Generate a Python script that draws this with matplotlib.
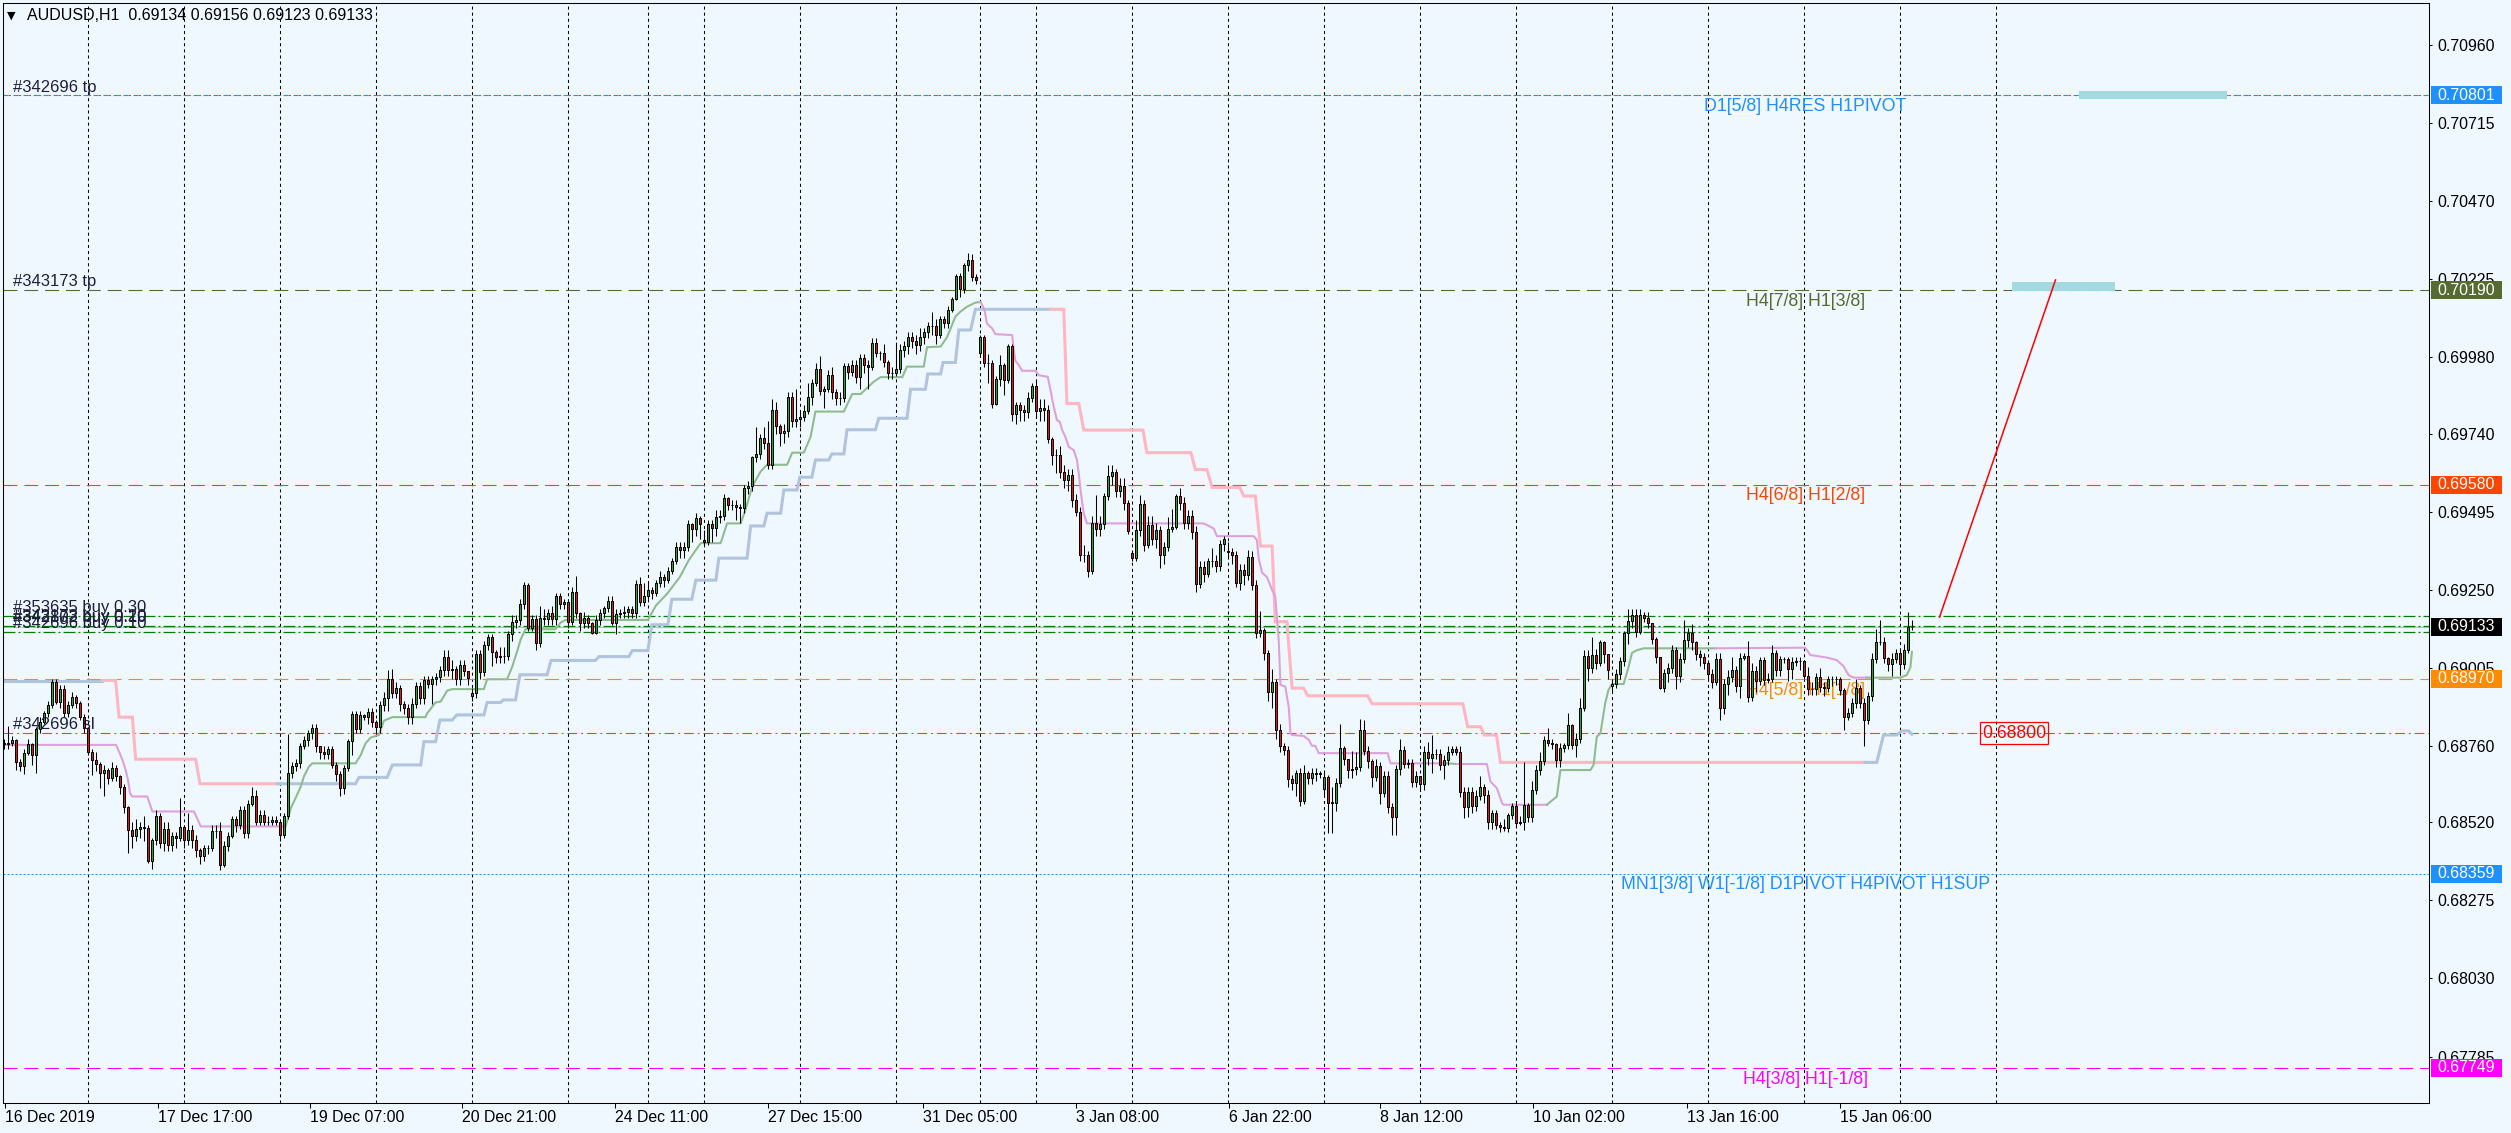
import numpy as np
import matplotlib
matplotlib.use("Agg")
import matplotlib.pyplot as plt
import matplotlib.transforms as mtransforms
from matplotlib.patches import Rectangle

W, H = 2511, 1133
PIP = 1e-4

# H1 candles, prices in pips (1e-4); open = previous close unless listed in gap_open_pips
close_pips = [
    6876.6, 6877.0, 6877.7, 6870.8, 6869.7, 6873.7, 6876.6, 6873.1, 6881.2, 6883.6,
    6886.2, 6888.9, 6895.9, 6889.9, 6893.8, 6886.2, 6888.9, 6891.3, 6889.4, 6885.2,
    6881.5, 6874.2, 6871.6, 6870.3, 6867.4, 6868.4, 6865.8, 6869.0, 6866.6, 6863.0,
    6856.7, 6849.6, 6847.7, 6849.8, 6850.4, 6850.3, 6839.7, 6846.3, 6854.0, 6845.6,
    6849.8, 6844.9, 6847.7, 6847.0, 6850.5, 6846.5, 6849.6, 6846.5, 6843.4, 6841.3,
    6843.9, 6843.9, 6849.4, 6849.4, 6838.6, 6844.6, 6847.7, 6853.0, 6851.2, 6855.9,
    6848.6, 6857.8, 6860.1, 6852.2, 6854.3, 6852.2, 6852.2, 6852.6, 6852.1, 6848.1,
    6854.0, 6867.6, 6869.7, 6870.6, 6875.8, 6877.7, 6880.0, 6881.5, 6875.8, 6874.2,
    6873.5, 6874.9, 6870.0, 6867.1, 6862.9, 6869.0, 6877.5, 6886.0, 6881.2, 6885.6,
    6885.2, 6886.7, 6883.6, 6882.0, 6888.8, 6890.9, 6896.9, 6892.5, 6894.1, 6889.2,
    6888.0, 6885.2, 6889.2, 6894.8, 6890.9, 6896.7, 6895.3, 6896.9, 6897.5, 6899.8,
    6903.8, 6899.8, 6900.0, 6896.9, 6901.4, 6899.6, 6897.2, 6892.5, 6904.8, 6899.3,
    6907.7, 6910.3, 6905.3, 6903.8, 6904.2, 6904.2, 6911.1, 6915.0, 6915.5, 6920.5,
    6926.5, 6912.9, 6915.7, 6908.2, 6916.0, 6915.7, 6917.8, 6915.7, 6923.0, 6920.5,
    6921.0, 6915.0, 6924.4, 6917.6, 6914.7, 6916.0, 6914.5, 6911.5, 6915.5, 6917.6,
    6919.2, 6921.5, 6914.7, 6917.4, 6917.6, 6918.1, 6918.9, 6917.8, 6926.8, 6921.0,
    6923.0, 6925.0, 6924.0, 6927.0, 6929.0, 6928.0, 6931.0, 6934.0, 6938.5, 6937.5,
    6938.3, 6945.6, 6943.9, 6947.4, 6945.6, 6940.1, 6945.6, 6944.3, 6947.9, 6948.2,
    6953.7, 6951.6, 6951.6, 6950.9, 6950.6, 6956.8, 6957.6, 6966.5, 6967.6, 6972.5,
    6971.0, 6964.2, 6981.4, 6976.4, 6974.3, 6974.7, 6985.6, 6977.8, 6978.5, 6979.1,
    6981.2, 6985.6, 6990.0, 6994.2, 6987.5, 6987.9, 6992.4, 6986.9, 6985.1, 6985.1,
    6995.2, 6993.4, 6995.5, 6991.9, 6997.6, 6995.5, 6995.0, 7002.3, 6999.2, 6999.2,
    6996.6, 6993.1, 6993.1, 6994.2, 7000.2, 7001.5, 7004.4, 7003.2, 7001.8, 7004.2,
    7005.9, 7007.8, 7007.8, 7004.8, 7009.9, 7008.8, 7012.8, 7016.1, 7023.3, 7019.3,
    7026.9, 7028.4, 7023.0, 7022.1, 7004.4, 6996.2, 6996.0, 6983.4, 6991.0, 6995.5,
    6990.8, 7001.4, 6980.1, 6982.9, 6981.4, 6980.8, 6985.3, 6988.9, 6981.1, 6981.9,
    6981.5, 6972.3, 6967.2, 6967.2, 6962.0, 6959.4, 6961.0, 6953.1, 6949.4, 6935.8,
    6935.8, 6930.9, 6946.0, 6944.2, 6945.6, 6954.4, 6960.6, 6961.9, 6956.0, 6957.5,
    6952.3, 6943.5, 6935.1, 6943.7, 6951.9, 6939.0, 6945.3, 6940.8, 6943.7, 6935.8,
    6938.3, 6944.2, 6944.7, 6954.4, 6952.1, 6946.0, 6948.1, 6943.2, 6926.7, 6932.2,
    6929.9, 6934.1, 6934.1, 6932.4, 6939.3, 6940.8, 6936.7, 6935.8, 6927.2, 6931.1,
    6929.6, 6935.3, 6926.4, 6911.5, 6912.3, 6905.0, 6893.0, 6896.0, 6881.0, 6876.0,
    6874.7, 6865.5, 6864.3, 6867.4, 6858.8, 6867.4, 6865.8, 6867.6, 6867.2, 6867.4,
    6866.1, 6858.2, 6858.2, 6864.3, 6875.2, 6871.9, 6868.4, 6868.6, 6869.5, 6881.0,
    6874.5, 6871.1, 6866.1, 6869.7, 6861.3, 6866.4, 6856.7, 6853.8, 6868.7, 6874.7,
    6870.3, 6870.5, 6864.8, 6866.4, 6864.1, 6874.2, 6872.1, 6873.5, 6873.5, 6870.0,
    6871.4, 6874.2, 6874.9, 6874.2, 6861.6, 6856.7, 6861.6, 6857.1, 6860.3, 6863.2,
    6860.6, 6852.2, 6854.8, 6851.2, 6850.5, 6850.1, 6854.3, 6857.1, 6851.9, 6852.2,
    6857.5, 6853.8, 6862.2, 6868.4, 6871.1, 6877.9, 6877.0, 6876.6, 6871.4, 6875.2,
    6876.3, 6882.6, 6876.3, 6878.1, 6887.8, 6904.2, 6900.3, 6904.5, 6902.1, 6908.7,
    6904.8, 6899.8, 6895.4, 6898.5, 6902.7, 6911.3, 6915.2, 6917.0, 6911.8, 6917.0,
    6916.0, 6914.5, 6909.4, 6903.9, 6894.0, 6898.7, 6900.3, 6906.2, 6897.9, 6903.1,
    6909.2, 6911.3, 6908.6, 6904.8, 6903.9, 6902.1, 6898.5, 6896.1, 6903.4, 6888.0,
    6895.4, 6897.7, 6899.8, 6894.7, 6903.7, 6904.2, 6891.4, 6899.5, 6896.4, 6902.9,
    6896.8, 6897.1, 6905.2, 6899.8, 6903.1, 6903.1, 6900.0, 6902.4, 6902.7, 6902.7,
    6897.9, 6893.7, 6893.7, 6897.5, 6894.5, 6894.3, 6897.1, 6897.1, 6896.9, 6893.5,
    6885.1, 6886.4, 6889.3, 6894.0, 6889.5, 6884.1, 6891.6, 6903.4, 6908.6, 6908.6,
    6903.7, 6901.8, 6903.4, 6905.2, 6901.6, 6906.2, 6913.4, 6913.3,
]
high_pips = [
    6878, 6882.3, 6879, 6878, 6872, 6875, 6878, 6877, 6882, 6885,
    6887, 6890, 6897, 6897, 6895, 6895, 6890, 6893, 6892, 6890,
    6886, 6882, 6875, 6874, 6871, 6870, 6869, 6871, 6870, 6867,
    6864, 6857, 6852, 6853, 6852, 6854, 6851, 6847, 6856, 6855,
    6852, 6852, 6849, 6849, 6859.6, 6851, 6854.9, 6851, 6848, 6844,
    6845, 6845, 6851, 6851, 6852, 6846, 6849, 6854, 6854, 6857,
    6857, 6859, 6863.2, 6862, 6856, 6856, 6854, 6854, 6854, 6852,
    6855, 6879.8, 6871, 6872, 6877, 6879, 6881, 6883, 6883, 6876,
    6876, 6876, 6876, 6871, 6868, 6870, 6878, 6887, 6887, 6887,
    6886, 6888, 6888, 6884, 6890, 6893, 6899.8, 6900, 6896, 6895,
    6890, 6889, 6891, 6896, 6896, 6898, 6898, 6898, 6899, 6901,
    6906, 6906, 6903, 6901, 6903, 6903, 6899, 6894, 6906, 6906,
    6909, 6911, 6911, 6906, 6907, 6907, 6912, 6917, 6917, 6922,
    6927.5, 6927, 6917, 6917, 6920, 6919, 6919, 6920, 6924, 6924,
    6922, 6922, 6926, 6929.3, 6918, 6918, 6917, 6915, 6917, 6919,
    6920, 6923, 6923, 6919, 6919, 6920, 6920, 6920, 6928, 6929,
    6927, 6927, 6926, 6928, 6931, 6930, 6932, 6935, 6940, 6940,
    6940, 6947, 6946, 6949, 6948, 6943.7, 6947, 6947, 6950, 6950,
    6955, 6954, 6953, 6953, 6952, 6958, 6959, 6967, 6976, 6974,
    6976, 6978, 6984.8, 6984, 6977, 6977, 6987, 6987, 6988, 6981,
    6983, 6990, 6991, 6996, 6998.4, 6989, 6994, 6995, 6988, 6987,
    6996, 6996, 6997, 6997, 6999, 6999, 6997, 7004, 7004, 7000,
    7002, 6997, 6995, 7002, 7002, 7003, 7006, 7006, 7005, 7007,
    7007, 7009, 7012, 7010, 7011, 7011, 7014, 7017, 7024, 7024.5,
    7027.5, 7030.7, 7030.5, 7024, 7005, 7005, 6999, 6997, 6992, 6998.6,
    6996, 7002, 7002, 6984, 6984, 6983, 6987, 6990, 6990.8, 6985,
    6985, 6983, 6973, 6969, 6970, 6964, 6963, 6963, 6955, 6951,
    6939, 6937, 6948, 6954.7, 6948, 6955.4, 6964.1, 6964, 6963, 6960,
    6960, 6953, 6937, 6947, 6954.7, 6953, 6948, 6948, 6946, 6945,
    6940, 6947.9, 6950.2, 6955, 6956.8, 6954, 6950, 6950, 6945, 6934,
    6934, 6935.1, 6938, 6936, 6940.5, 6942, 6940, 6938, 6937, 6933,
    6933, 6937.4, 6937, 6928, 6918.4, 6913, 6906, 6900, 6897, 6883,
    6877, 6876, 6867, 6868.4, 6869, 6870, 6868, 6869, 6869, 6868,
    6868, 6867, 6863, 6866, 6882.9, 6876, 6872, 6874.3, 6874, 6884.3,
    6884, 6876, 6872, 6872, 6871, 6868, 6868, 6858, 6870, 6878.1,
    6875.8, 6872, 6872, 6868, 6866, 6876, 6877.3, 6879.4, 6875, 6875,
    6873, 6876, 6875.8, 6876, 6876, 6863, 6863, 6863, 6862, 6866.4,
    6864, 6862, 6856, 6856, 6852, 6853, 6855, 6858, 6858, 6854,
    6870.8, 6858, 6865.1, 6870, 6874.2, 6879, 6881.5, 6878, 6877, 6877,
    6877, 6886.2, 6883, 6880, 6890.9, 6906, 6906.1, 6910.1, 6906.3, 6909.2,
    6909, 6904, 6897, 6900, 6904, 6912, 6918.8, 6919, 6919, 6919,
    6918, 6918, 6914, 6910, 6904, 6900, 6902, 6907.5, 6907, 6905,
    6915.4, 6913, 6914.2, 6909, 6906, 6905, 6902, 6900, 6905, 6905,
    6897, 6899.8, 6903.8, 6901, 6905, 6905, 6909, 6902, 6901, 6904,
    6903.8, 6899, 6907.6, 6906, 6904.2, 6904, 6904, 6904, 6904, 6904,
    6903, 6900.6, 6896, 6899, 6900.3, 6896, 6898, 6898, 6898, 6897.7,
    6894, 6888, 6891, 6897, 6895, 6891, 6893, 6905, 6912.8, 6915.4,
    6910, 6904, 6905, 6906.5, 6906, 6908, 6918.1, 6915.6,
]
low_pips = [
    6875, 6875, 6876, 6868.5, 6868, 6867.2, 6873, 6870, 6867.6, 6880,
    6883, 6885, 6888, 6889, 6888, 6885, 6885, 6888, 6888, 6884,
    6880, 6873, 6867, 6868, 6862.7, 6860.3, 6864, 6865, 6865, 6861,
    6855, 6842.3, 6844, 6846, 6847, 6846, 6839.2, 6837.3, 6845, 6844,
    6843, 6843, 6843, 6844, 6846, 6844, 6845, 6844, 6841, 6839,
    6840, 6842, 6843, 6847, 6837, 6838, 6843, 6847, 6849, 6850,
    6847, 6847, 6857, 6851, 6851, 6851, 6851, 6851, 6851, 6846,
    6847, 6853, 6866, 6868, 6869, 6875, 6876, 6878, 6874, 6872,
    6872, 6872, 6869, 6865, 6860.3, 6861, 6868, 6873, 6880, 6880,
    6884, 6883, 6882, 6880, 6880, 6887, 6887, 6891, 6891, 6887,
    6886, 6883, 6883, 6888, 6889, 6889, 6894, 6889, 6895, 6896,
    6898, 6898, 6897, 6895, 6895, 6898, 6895, 6890, 6891, 6897,
    6898, 6906, 6901, 6902, 6902, 6902, 6903, 6909, 6913, 6914,
    6919, 6912, 6912, 6906, 6907, 6914, 6914, 6914, 6914, 6919,
    6919, 6913, 6914, 6916, 6912, 6913, 6913, 6911, 6911, 6914,
    6916, 6918, 6914, 6911, 6916, 6916, 6916, 6916, 6916, 6920,
    6920, 6922, 6922, 6923, 6926, 6926, 6927, 6930, 6933, 6935,
    6935, 6937, 6940, 6942, 6941, 6939, 6939, 6940, 6942, 6946,
    6947, 6950, 6950, 6947, 6946, 6949, 6955, 6956, 6965, 6966,
    6969, 6963, 6963, 6974, 6970, 6971, 6973, 6976, 6976, 6976,
    6978, 6980, 6983, 6989, 6986, 6982, 6987, 6985, 6983, 6983,
    6984, 6991, 6992, 6990, 6988, 6993, 6988, 6994, 6998, 6997,
    6995, 6991, 6991, 6992, 6993, 6998, 6999, 7001, 6999, 7000,
    7002, 7004, 7005, 7002, 7004, 7007, 7007, 7012, 7016, 7017,
    7018, 7025, 7022, 7021, 6998, 6995, 6990, 6982, 6983, 6989,
    6986, 6990, 6978, 6977, 6978, 6978, 6979, 6984, 6979, 6978,
    6978, 6971, 6964, 6961.5, 6960, 6957, 6956, 6951, 6948, 6934,
    6933.7, 6929, 6930, 6942, 6942, 6944, 6953, 6958, 6954, 6954,
    6950, 6942.5, 6934, 6934, 6942, 6937, 6938, 6939, 6938, 6931.7,
    6933, 6937, 6943, 6944, 6950, 6944, 6944, 6941, 6924.4, 6925.4,
    6927.5, 6929, 6932, 6930.6, 6931, 6937, 6935, 6933, 6925.7, 6925,
    6926.4, 6928, 6925, 6909.7, 6910, 6903, 6890, 6888, 6878, 6874,
    6873, 6863, 6862, 6860.3, 6857, 6857.8, 6864, 6864, 6865, 6866,
    6860.3, 6848.8, 6848.8, 6855.7, 6863, 6870, 6866, 6866, 6867, 6868,
    6873, 6869, 6863, 6865, 6857.8, 6860, 6854.8, 6848.1, 6848.1, 6867,
    6869, 6869, 6863, 6863, 6861.7, 6862, 6870, 6867.6, 6872, 6868.4,
    6865.5, 6870, 6873, 6873, 6860, 6853.3, 6853.8, 6855, 6855.4, 6859,
    6858, 6849.8, 6849.8, 6849.8, 6849, 6849.4, 6849, 6853, 6850.9, 6851,
    6849.6, 6852, 6852, 6861, 6867, 6870, 6876, 6875, 6869.3, 6869.3,
    6874, 6875, 6875, 6872.4, 6877, 6887, 6896.2, 6899, 6900, 6901,
    6902, 6897, 6893, 6894, 6897, 6901, 6908, 6913, 6910, 6911,
    6915, 6913, 6908, 6902, 6893.7, 6893, 6896, 6899, 6893.7, 6896,
    6902, 6907, 6906, 6903, 6901, 6900, 6897, 6894, 6895, 6884.1,
    6886, 6892, 6896, 6893, 6890.9, 6903, 6889.8, 6890, 6893, 6895,
    6895, 6895.6, 6896, 6898, 6898, 6902, 6896.4, 6897, 6901, 6899.8,
    6897, 6892, 6892, 6892, 6893, 6891.6, 6893, 6894.7, 6895, 6892,
    6881.1, 6884, 6885, 6888, 6888, 6875.9, 6883, 6890, 6902, 6907.5,
    6902, 6899.5, 6897.9, 6902, 6899, 6900, 6905, 6912.3,
]
gap_open_pips = {0: 6877.0, 117: 6891.5, 175: 6940.6, 244: 6999.3,
                 282: 6936.4, 306: 6937.2, 330: 6862.4, 402: 6894.7}

# first bar of each day (period separators)
day_starts = [21, 45, 69, 93, 117, 141, 161, 175, 199, 223, 244, 258, 282,
              306, 330, 354, 378, 402, 426, 450, 474, 498]
time_label_pos = [0.2, 38.5, 76.5, 114.6, 152.8, 191.1, 229.7, 268.0, 306.2,
                  344.1, 382.4, 420.8, 459.1]
time_labels = ["16 Dec 2019", "17 Dec 17:00", "19 Dec 07:00", "20 Dec 21:00",
               "24 Dec 11:00", "27 Dec 15:00", "31 Dec 05:00", "3 Jan 08:00",
               "6 Jan 22:00", "8 Jan 12:00", "10 Jan 02:00", "13 Jan 16:00",
               "15 Jan 06:00"]
price_ticks = [0.70960, 0.70715, 0.70470, 0.70225, 0.69980, 0.69740, 0.69495,
               0.69250, 0.69005, 0.68760, 0.68520, 0.68275, 0.68030, 0.67785]

# slow trailing line (bar, pips), colour changes with trend
slow_segments = [
    ("#B0C4DE", [(-0.3, 6896.5), (24.6, 6896.5)]),
    ("#FFB6C1", [(24.6, 6896.5), (27.9, 6896.5), (28.75, 6885.0), (32.1, 6885.0),
                 (32.9, 6871.8), (47.9, 6871.8), (49.0, 6864.1), (68.3, 6864.1)]),
    ("#B0C4DE", [(68.3, 6864.1), (87.9, 6864.1), (88.75, 6866.1), (95.8, 6866.1),
                 (97.1, 6870.0), (104.2, 6870.0), (105, 6877.3), (107.9, 6877.3),
                 (109, 6884.1), (112.1, 6884.1), (113.2, 6885.7), (120, 6885.7),
                 (120.8, 6889.6), (124.2, 6889.6), (124.8, 6890.4), (127.9, 6890.4),
                 (129, 6898.3), (135.8, 6898.3), (136.8, 6902.8), (147.9, 6902.8),
                 (148.75, 6904.0), (156.25, 6904.0), (157.1, 6905.9), (161, 6905.9),
                 (162, 6914), (166, 6914), (167, 6922), (172, 6922), (173, 6928),
                 (178, 6928), (178.75, 6934.9), (185.8, 6934.9), (186.7, 6945.0),
                 (190, 6945.0), (190.8, 6949.0), (194.2, 6949.0), (195, 6956.3),
                 (198.3, 6956.3), (199, 6960.3), (202, 6960.3), (202.9, 6965.7),
                 (206.25, 6965.7), (207, 6967.6), (210, 6967.6), (210.8, 6975.2),
                 (217.9, 6975.2), (218.75, 6978.8), (225.8, 6978.8), (226.7, 6987.9),
                 (230.4, 6987.9), (231, 6992.7), (234.2, 6992.7), (234.8, 6996.3),
                 (237.9, 6996.3), (238.75, 7006.5), (241.7, 7006.5), (242.9, 7013.0),
                 (261.7, 7013.0)]),
    ("#FFB6C1", [(261.7, 7013.0), (265, 7013.0), (265.8, 6983.4), (268.75, 6983.4),
                 (270, 6975.1), (284.8, 6975.1), (285.8, 6968.0), (296.8, 6968.0),
                 (297.9, 6962.7), (300.8, 6962.7), (302.1, 6957.1), (309, 6957.1),
                 (310, 6954.4), (312.9, 6954.4), (314.2, 6938.7), (317.1, 6938.7),
                 (317.9, 6914.9), (320.8, 6915.0), (322.1, 6894.1), (325, 6894.1),
                 (326, 6891.7), (341, 6891.7), (342.1, 6889.2), (364.8, 6889.2),
                 (366, 6882.0), (369.2, 6882.0), (370.2, 6879.4), (373.2, 6879.4),
                 (374.2, 6870.8), (465.4, 6870.8)]),
    ("#B0C4DE", [(465.4, 6870.8), (468.3, 6870.8), (470, 6879.4), (473.3, 6879.4),
                 (474.6, 6880.7), (476.25, 6880.7), (477.1, 6879.7)]),
]

# fast trailing line (bar, pips)
fast_segments = [
    ("#DDA0DD", [(-0.3, 6876.3), (28, 6876.3), (28.75, 6874.2), (29.6, 6871.6),
                 (30.4, 6868.5), (31, 6865.3), (31.5, 6861.1), (32.1, 6860.1),
                 (35.8, 6860.1), (37.1, 6855.4), (47.5, 6855.4), (49.2, 6850.7),
                 (70.4, 6850.7)]),
    ("#8FBC8F", [(70.4, 6850.7), (71.7, 6856.4), (72.9, 6859.6), (74.2, 6863.2),
                 (75, 6866.4), (76.25, 6869.5), (77.1, 6870.5), (87.9, 6870.5),
                 (89.2, 6873.1), (90.4, 6876.8), (91.7, 6878.6), (93.75, 6879.4),
                 (94.2, 6881.0), (95, 6883.9), (97.1, 6885.0), (105.4, 6885.0),
                 (105.8, 6886.2), (107.9, 6889.6), (109.2, 6889.9), (110.8, 6893.3),
                 (112.1, 6893.8), (120, 6893.8), (120.8, 6896.9), (125.8, 6896.9),
                 (127.1, 6900.9), (128.3, 6905.6), (129.2, 6909.4), (130.4, 6912.6),
                 (137.9, 6912.6), (139.2, 6914.7), (140.4, 6915.5), (161, 6915.5),
                 (163, 6920), (166, 6924), (169, 6929), (171.25, 6934.3),
                 (174.2, 6939.6), (179.2, 6939.6), (180.8, 6945.8), (184.2, 6945.8),
                 (185.4, 6950.0), (187.1, 6957.4), (189.2, 6962.1), (190.8, 6964.2),
                 (195.8, 6964.2), (197.1, 6968.0), (200, 6968.0), (201.7, 6973.0),
                 (202.9, 6980.9), (210, 6980.9), (212.1, 6986.4), (214.2, 6986.4),
                 (217.5, 6990.3), (219.2, 6991.7), (224.6, 6991.7), (225.8, 6995.0),
                 (230, 6995.0), (230.8, 7001.1), (234.2, 7001.3), (235.8, 7004.2),
                 (237.9, 7010.7), (239.2, 7012.3), (240.8, 7013.8), (242.9, 7015.1),
                 (244.2, 7015.3)]),
    ("#DDA0DD", [(244.2, 7015.3), (245.2, 7012.7), (245.8, 7008.5), (247.1, 7007.0),
                 (247.9, 7005.2), (252.1, 7004.9), (252.5, 7000.2), (252.9, 6996.8),
                 (253.75, 6995.5), (254.6, 6993.7), (257.9, 6993.7), (258.75, 6992.3),
                 (261, 6991.8), (261.7, 6987.6), (262.5, 6982.4), (263.3, 6978.2),
                 (264, 6977.7), (264.6, 6975.1), (265.4, 6973.0), (266.25, 6969.8),
                 (267.5, 6968.8), (268.3, 6965.7), (268.75, 6961.5), (269.3, 6955.2),
                 (270, 6948.9), (270.8, 6945.8), (300, 6945.8), (300.8, 6945.3),
                 (302.5, 6944.2), (303.3, 6941.8), (312.5, 6941.8), (313.3, 6940.6),
                 (313.75, 6934.8), (314.6, 6930.3), (315.8, 6929.0), (317.1, 6924.9),
                 (317.9, 6922.8), (318.75, 6909.2), (319.2, 6895.1), (320.4, 6894.6),
                 (320.8, 6891.5), (321.25, 6888.3), (321.7, 6879.9), (322.1, 6879.4),
                 (325, 6879.1), (326.25, 6877.9), (327.1, 6876.0), (327.9, 6876.0),
                 (328.75, 6873.7), (346, 6873.7), (346.7, 6870.5), (360.8, 6870.5)]),
    ("#8FBC8F", [(360.8, 6870.5), (363.3, 6870.3)]),
    ("#DDA0DD", [(363.3, 6870.3), (370.8, 6870.3), (371.7, 6864.8), (373.3, 6862.7),
                 (374.6, 6858.0), (375, 6857.5), (385.8, 6857.5)]),
    ("#8FBC8F", [(385.8, 6857.5), (388.3, 6860.1), (389.2, 6868.4), (396.7, 6868.4),
                 (397.5, 6870.0), (398.3, 6878.9), (399.2, 6879.9), (400.4, 6889.4),
                 (401.2, 6893.5), (402.1, 6895.4), (405, 6895.4), (406.25, 6900.8),
                 (407.1, 6905.2), (408.3, 6906.0), (410, 6906.6), (428, 6906.6)]),
    ("#DDA0DD", [(428, 6906.6), (450.4, 6906.8), (451.7, 6904.5), (455.8, 6903.7),
                 (458.3, 6902.9), (460, 6901.0), (461.25, 6898.2), (462.5, 6897.4),
                 (465.8, 6897.4)]),
    ("#8FBC8F", [(465.8, 6897.4), (474.2, 6897.4), (475.8, 6898.2), (476.7, 6900.6),
                 (477.1, 6905.5)]),
]

level_prices = [0.70801, 0.70190, 0.69580, 0.68970, 0.68359, 0.67749]
level_colors = ["#1E90FF", "#556B2F", "#FF4500", "#FF8C00", "#1E90FF", "#FF00FF"]
level_names = ["D1[5/8] H4RES H1PIVOT", "H4[7/8] H1[3/8]", "H4[6/8] H1[2/8]",
               "H4[5/8] H1[1/8]", "MN1[3/8] W1[-1/8] D1PIVOT H4PIVOT H1SUP",
               "H4[3/8] H1[-1/8]"]
level_label_bar = 450.4

order_prices = [0.69168, 0.69136, 0.69117]
order_texts = [("#342696 tp", 0.70801), ("#343173 tp", 0.70190),
               ("#353635 buy 0.30", 0.69168), ("#343173 buy 0.20", 0.69140),
               ("#342802 buy 0.10", 0.69136), ("#342696 buy 0.10", 0.69117),
               ("#342696 sl", 0.68800)]
sl_price = 0.68800
bid = 0.69133
header = "AUDUSD,H1  0.69134 0.69156 0.69123 0.69133"

axis_boxes = [(0.70801, "#1E90FF"), (0.70190, "#556B2F"), (0.69580, "#FF4500"),
              (0.69133, "#000000"), (0.68970, "#FF8C00"), (0.68359, "#1E90FF"),
              (0.67749, "#FF00FF")]

# drawn objects: trend line and two zones
trend_bars = [484, 513]
trend_prices = [0.69164, 0.70222]
zones = [(502, 528, 0.70187, 0.70216), (519, 556, 0.70790, 0.70815)]
label_box = (502.6, 0.68800)


def main():
    plt.rcParams['font.family'] = ['Liberation Sans', 'DejaVu Sans']
    plt.rcParams['lines.scale_dashes'] = False
    bg = '#F0F8FF'
    fig = plt.figure(figsize=(W / 100, H / 100), dpi=100, facecolor=bg)
    ax = fig.add_axes([3 / W, 30 / H, 2426 / W, 1100 / H], facecolor=bg)
    ymin, ymax = 0.676391, 0.710912
    ax.set_xlim(-0.26, 606.4)
    ax.set_ylim(ymin, ymax)
    px = (ymax - ymin) / 1100.0
    blend = mtransforms.blended_transform_factory(ax.transAxes, ax.transData)

    n = min(len(close_pips), len(high_pips), len(low_pips))
    close = np.array(close_pips[:n]) * PIP
    high = np.array(high_pips[:n]) * PIP
    low = np.array(low_pips[:n]) * PIP
    opens = np.empty(n)
    opens[1:] = close[:-1]
    for k, v in gap_open_pips.items():
        if k < n:
            opens[k] = v * PIP
    high = np.maximum(high, np.maximum(opens, close))
    low = np.minimum(low, np.minimum(opens, close))
    x = np.arange(n)

    # day separators
    ax.vlines(day_starts, ymin, ymax, colors='black', lw=0.75,
              linestyles=[(0, (2.2, 2.2))], zorder=1)

    # levels
    dash_long = (0, (10, 5))
    for p, c in zip(level_prices, level_colors):
        if p == 0.70801:
            ax.axhline(p, color='#FF4500', lw=0.8, linestyle=(3.6, (1.8, 5.4)), zorder=1.5)
            ax.axhline(p, color=c, lw=0.8, linestyle=(0, (3.6, 3.6)), zorder=1.6)
        elif p == 0.68359:
            ax.axhline(p, color=c, lw=0.8, linestyle=(0, (1.44, 1.44)), zorder=1.5)
        else:
            ax.axhline(p, color=c, lw=0.8, linestyle=dash_long, zorder=1.5)
    for p in order_prices:
        ax.axhline(p, color='#008000', lw=0.9, linestyle=(0, (8.6, 2.2, 1.4, 2.2)), zorder=1.5)
    ax.axhline(sl_price, color='#FF4500', lw=0.8, linestyle=(0, (7, 2.8, 1.4, 2.8)), zorder=1.5)
    ax.axhline(bid, color='#C0C0C0', lw=0.8, zorder=1.4)

    # level labels (behind candles)
    for p, c, t in zip(level_prices, level_colors, level_names):
        ax.annotate(t, (level_label_bar, p), xytext=(0, -2), textcoords='offset points',
                    ha='center', va='top', color=c, fontsize=12.8, zorder=2.5)

    # indicator lines
    for c, pts in slow_segments:
        xs, ys = zip(*pts)
        ax.plot(xs, np.array(ys) * PIP, color=c, lw=2.2, zorder=2,
                solid_joinstyle='miter')
    for c, pts in fast_segments:
        xs, ys = zip(*pts)
        ax.plot(xs, np.array(ys) * PIP, color=c, lw=1.5, zorder=2.1)

    # candles
    up = close >= opens
    cols = np.where(up, '#33A033', '#D41E1E')
    ax.vlines(x, low, high, colors='black', lw=0.75, zorder=3)
    body = np.maximum(np.abs(close - opens), 0.02 * PIP)
    ax.bar(x, body, bottom=np.minimum(opens, close), width=0.5, color=cols,
           edgecolor='black', linewidth=0.72, zorder=4)

    # objects
    ax.plot(trend_bars, trend_prices, color='#FF0000', lw=1.1, zorder=5)
    for x0, x1, p0, p1 in zones:
        ax.add_patch(Rectangle((x0, p0), x1 - x0, p1 - p0, facecolor='#A3D9E0',
                               edgecolor='none', zorder=1.8))
    ax.text(label_box[0], label_box[1], "0.68800", color='#FF0000', fontsize=12.7,
            ha='center', va='center', zorder=6,
            bbox=dict(boxstyle='square,pad=0.12', fc='none', ec='#FF0000', lw=0.9))

    # order labels at left
    for t, p in order_texts:
        ax.annotate(t, (10 / 2426, p), xycoords=blend, xytext=(0, 0.5),
                    textcoords='offset points', ha='left', va='bottom',
                    color='#1E1E3C', fontsize=12, zorder=5)

    # right scale
    ax.yaxis.tick_right()
    ax.set_yticks(price_ticks)
    ax.set_yticklabels([f"{t:.5f}" for t in price_ticks])
    ax.tick_params(axis='y', length=2.4, width=0.75, pad=3.5, labelsize=11.4,
                   colors='black')
    bh = 18 * px
    for p, c in axis_boxes:
        ax.add_patch(Rectangle((1.00082, p - bh / 2), 0.02927, bh, transform=blend,
                               facecolor=c, edgecolor='none', clip_on=False, zorder=6))
        ax.text(1.0033, p, f"{p:.5f}", transform=blend, color='white', fontsize=11.4,
                ha='left', va='center', clip_on=False, zorder=7)

    # time scale
    ax.set_xticks(time_label_pos)
    ax.set_xticklabels(time_labels)
    for lbl in ax.get_xticklabels():
        lbl.set_horizontalalignment('left')
    ax.tick_params(axis='x', length=3.6, width=0.75, pad=1.5, labelsize=11.4)

    for s in ax.spines.values():
        s.set_color('black')
        s.set_linewidth(0.75)

    fig.text(7 / W, 1 - 16 / H, "\u25bc", fontsize=8, va='center', ha='left',
             family='DejaVu Sans')
    fig.text(27 / W, 1 - 16 / H, header, fontsize=11.5, va='center', ha='left')

    fig.savefig("out.png", dpi=100, facecolor=bg)


if __name__ == "__main__":
    main()
